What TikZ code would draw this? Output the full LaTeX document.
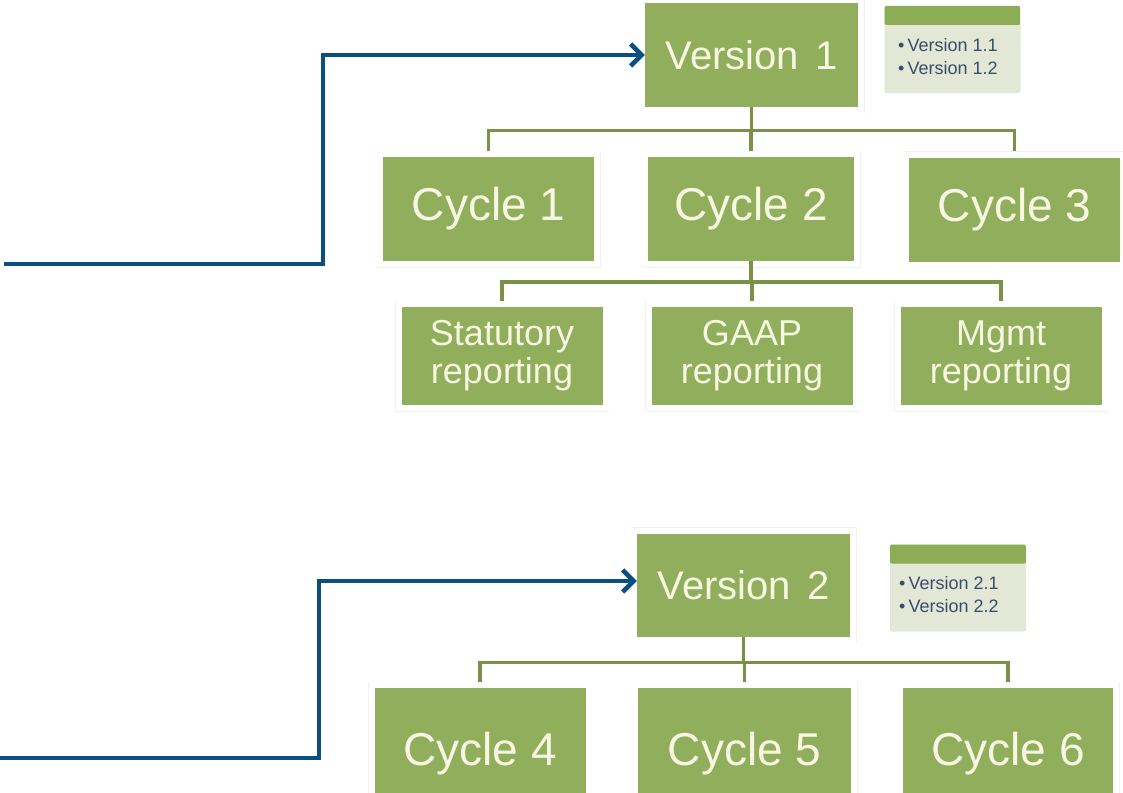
\documentclass[tikz,border=0pt]{standalone}
\usepackage{fontspec}
\setmainfont{Liberation Sans}
\usetikzlibrary{arrows.meta}
\definecolor{boxgreen}{HTML}{91AE5C}
\definecolor{boxtext}{HTML}{F6F8E2}
\definecolor{linkgreen}{HTML}{7A9248}
\definecolor{arrowblue}{HTML}{0B4F80}
\definecolor{legendbg}{HTML}{E2E7D6}
\definecolor{legendhdr}{HTML}{8CAD55}
\definecolor{legendtxt}{HTML}{3B4C6C}
\definecolor{framecol}{HTML}{F1F1F1}
\begin{document}
\begin{tikzpicture}[x=1pt,y=-1pt,
  box/.style={rectangle, fill=boxgreen, text=boxtext, inner sep=0pt, align=center,
    preaction={draw=framecol, line width=13pt},
    preaction={draw=white, line width=12pt}},
  vbox/.style={box, minimum width=213pt, minimum height=103pt, font=\fontsize{40}{44}\selectfont},
  cbox/.style={box, minimum width=211pt, minimum height=104pt, font=\fontsize{46}{50}\selectfont},
  rbox/.style={box, minimum width=201pt, minimum height=98pt, font=\fontsize{36}{38}\selectfont},
  legend/.style={rectangle, fill=legendbg, rounded corners=2pt, minimum width=136pt, minimum height=87pt,
    path picture={\fill[legendhdr] ([yshift=1pt]path picture bounding box.north west) rectangle ([yshift=-19pt]path picture bounding box.north east);}},
  ltext/.style={anchor=west, align=left, text=legendtxt, inner sep=0pt, font=\fontsize{18}{23}\selectfont},
  lnk/.style={draw=linkgreen, line width=3.5pt},
  arr/.style={draw=arrowblue, line width=4.5pt, -{Straight Barb[length=11pt,width=22pt]}}
]
\fill[white] (0,0) rectangle (1123,792);
\useasboundingbox (0,0) rectangle (1123,792);

% upper tree
\node[vbox] (v1) at (751.5,55) {Version\hspace{0.4em}1};
\node[legend] (lg1) at (952.5,49.5) {};
\node[ltext] (lt1) at (898,56.5) {•\,Version 1.1\\•\,Version 1.2};
\node[cbox] (c1) at (488.5,209) {Cycle 1};
\node[cbox, minimum width=206pt] (c2) at (751,209) {Cycle 2};
\node[cbox] (c3) at (1014.5,209.5) {Cycle 3};
\node[rbox] (r1) at (502,356) {Statutory\\reporting};
\node[rbox] (r2) at (752,356) {GAAP\\reporting};
\node[rbox] (r3) at (1001,356) {Mgmt\\reporting};

\draw[lnk] (v1.south) -- ++(0,24) -| ([yshift=6pt]c1.north);
\draw[lnk] (v1.south) -- ++(0,24) -| ([yshift=6pt]c2.north);
\draw[lnk] (v1.south) -- ++(0,24) -| ([yshift=6pt]c3.north);
\draw[lnk] (c2.south) -- ++(0,21) -| ([yshift=6pt]r1.north);
\draw[lnk] (c2.south) -- ++(0,21) -| ([yshift=6pt]r2.north);
\draw[lnk] (c2.south) -- ++(0,21) -| ([yshift=6pt]r3.north);

% lower tree
\node[vbox] (v2) at (743.5,585) {Version\hspace{0.4em}2};
\node[legend] (lg2) at (958,588) {};
\node[ltext] (lt2) at (899,594.5) {•\,Version 2.1\\•\,Version 2.2};
\node[cbox, minimum height=132pt] (c4) at (480,754) {Cycle 4};
\node[cbox, minimum height=132pt, minimum width=213pt] (c5) at (744.5,754) {Cycle 5};
\node[cbox, minimum height=132pt, minimum width=210pt] (c6) at (1008,754) {Cycle 6};

\draw[lnk] (v2.south) -- ++(0,26) -| ([yshift=6pt]c4.north);
\draw[lnk] (v2.south) -- ++(0,26) -| ([yshift=6pt]c5.north);
\draw[lnk] (v2.south) -- ++(0,26) -| ([yshift=6pt]c6.north);

% blue arrows
\coordinate (s1) at (4,264);
\coordinate (s2) at (0,758);
\draw[arr] (s1) -- ++(319,0) |- (v1.west);
\draw[arr] (s2) -- ++(319,0) |- ([yshift=4pt]v2.west);
\end{tikzpicture}
\end{document}
